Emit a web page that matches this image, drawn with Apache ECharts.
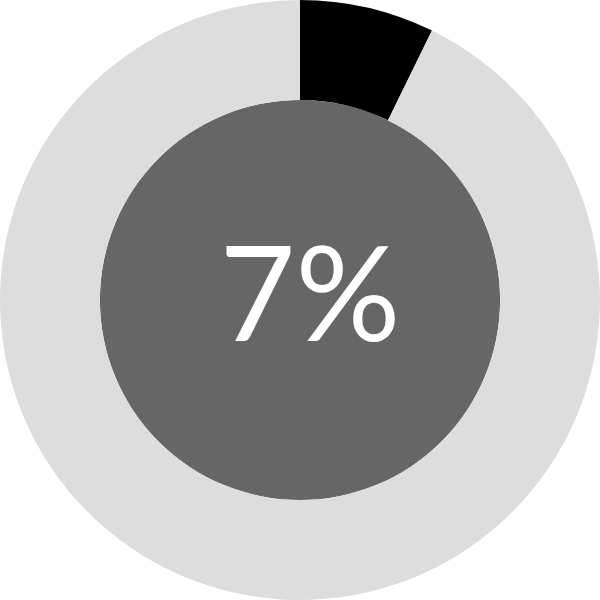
<!DOCTYPE html>
<html><head><meta charset="utf-8">
<script src="https://cdn.jsdelivr.net/npm/echarts@6/dist/echarts.min.js"></script>
<style>html,body{margin:0;padding:0;background:#fff}#c{width:600px;height:600px}</style>
</head><body><div id="c"></div>
<script>
const categories = ['Done', 'Remaining'];
const values = [7.25, 92.75];
const centerLabel = '7%';
const chart = echarts.init(document.getElementById('c'), null, {renderer: 'canvas'});
chart.setOption({
  animation: false,
  series: [
    {
      type: 'pie', radius: [0, '66.7%'], center: ['50%', '50%'], silent: true,
      label: {show: true, position: 'center', formatter: centerLabel, color: '#fff', fontSize: 131, fontFamily: 'Lato, sans-serif', offset: [10, -1]},
      labelLine: {show: false},
      itemStyle: {color: '#666666'},
      data: [{value: 1, name: 'inner'}]
    },
    {
      type: 'pie', radius: ['66.7%', '100%'], center: ['50%', '50%'], startAngle: 90, clockwise: true,
      label: {show: false}, labelLine: {show: false}, silent: true,
      data: categories.map((n, i) => ({name: n, value: values[i], itemStyle: {color: i === 0 ? '#000000' : '#dddddd'}}))
    }
  ]
});
</script></body></html>
